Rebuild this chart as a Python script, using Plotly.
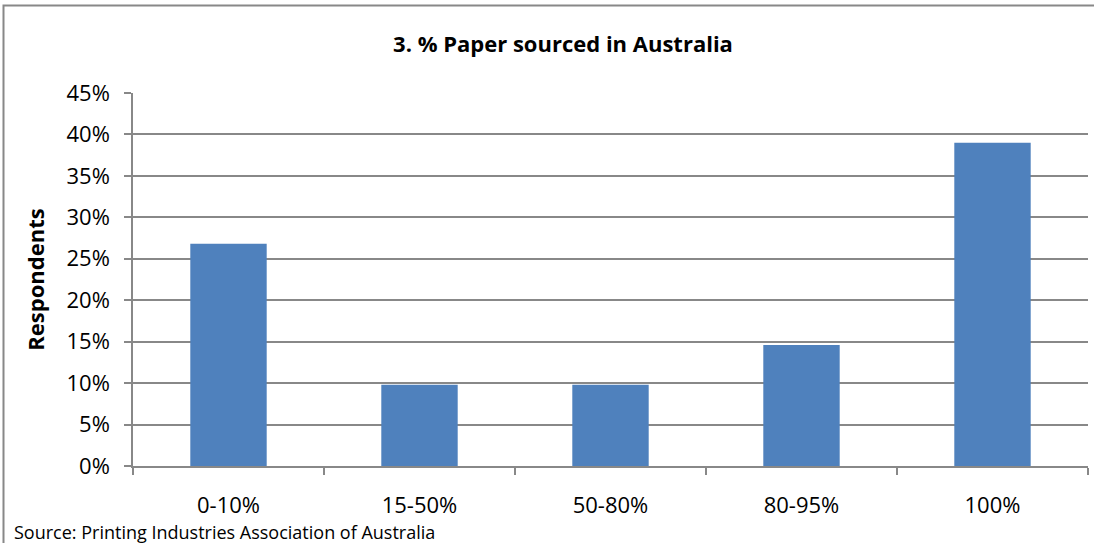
import plotly.graph_objects as go

# Share of respondents by % of paper sourced in Australia
categories = ["0-10%", "15-50%", "50-80%", "80-95%", "100%"]
respondents = [0.268, 0.098, 0.098, 0.146, 0.390]
y_ticks = [0, 0.05, 0.10, 0.15, 0.20, 0.25, 0.30, 0.35, 0.40, 0.45]

W, H = 1094, 543
L, R, T, B = 133, 6, 93, 77
pw, ph = W - L - R, H - T - B

def px_x(x):
    return (x - L) / pw

def px_y(y):
    return (H - B - y) / ph

GRAY = "#888888"
FONT = "Open Sans, Calibri, sans-serif"

fig = go.Figure(
    go.Bar(
        x=categories,
        y=respondents,
        marker=dict(color="#4F81BD", line=dict(width=0)),
        width=0.4,
        hoverinfo="x+y",
    )
)

fig.update_layout(
    width=W,
    height=H,
    margin=dict(l=L, r=R, t=T, b=B),
    paper_bgcolor="white",
    plot_bgcolor="white",
    showlegend=False,
    font=dict(family=FONT, color="#000000", size=22),
    title=dict(
        text="<b>3. % Paper sourced in Australia</b>",
        x=563 / W,
        xanchor="center",
        y=1 - 44 / H,
        yanchor="middle",
        font=dict(family=FONT, size=22, color="#000000"),
    ),
    xaxis=dict(
        type="category",
        showline=True,
        linecolor=GRAY,
        linewidth=1.5,
        ticks="outside",
        tickson="boundaries",
        ticklen=7,
        tickcolor=GRAY,
        tickwidth=1.5,
        ticklabelstandoff=19,
        showgrid=False,
        tickfont=dict(size=22),
    ),
    yaxis=dict(
        range=[0, 0.45],
        tickvals=y_ticks,
        tickformat=".0%",
        showline=True,
        linecolor=GRAY,
        linewidth=1.5,
        ticks="outside",
        ticklen=7,
        tickcolor=GRAY,
        tickwidth=1.5,
        ticklabelstandoff=10,
        showgrid=True,
        gridcolor=GRAY,
        gridwidth=1.5,
        zeroline=False,
        tickfont=dict(size=22),
        title=dict(text="<b>Respondents</b>", font=dict(size=22), standoff=16),
    ),
    shapes=[
        dict(
            type="rect",
            xref="paper",
            yref="paper",
            x0=px_x(3.5),
            x1=px_x(1100),
            y0=px_y(560),
            y1=px_y(5.5),
            line=dict(color=GRAY, width=2),
            fillcolor="rgba(0,0,0,0)",
            layer="below",
        )
    ],
    annotations=[
        dict(
            text="Source: Printing Industries Association of Australia",
            xref="paper",
            yref="paper",
            x=px_x(12),
            y=px_y(532),
            xanchor="left",
            yanchor="middle",
            showarrow=False,
            font=dict(family=FONT, size=18, color="#000000"),
        )
    ],
)

fig.write_html("out.html")
